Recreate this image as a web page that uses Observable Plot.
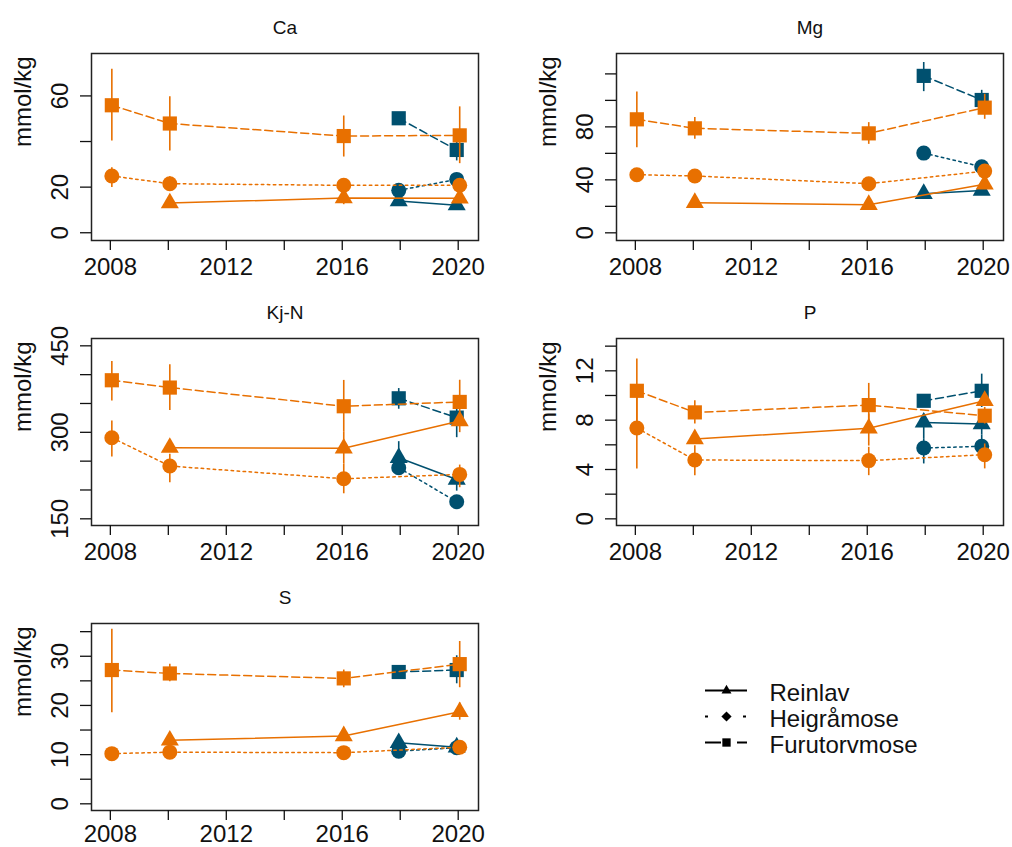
<!DOCTYPE html>
<html><head><meta charset="utf-8">
<script src="https://cdn.jsdelivr.net/npm/d3@7"></script>
<script src="https://cdn.jsdelivr.net/npm/@observablehq/plot@0.6"></script>
<style>
html,body{margin:0;padding:0;background:#fff;overflow:hidden;}
#wrap{position:relative;width:1012px;height:847px;font-family:"Liberation Sans",Arial,sans-serif;}
.panel{position:absolute;}
</style>
</head><body><div id="wrap"></div>
<script>
// ---------- data ----------
const years = [2008, 2010, 2012, 2014, 2016, 2018, 2020];
const yearLabels = [2008, 2012, 2016, 2020];
const species = ["Reinlav", "Heigråmose", "Furutorvmose"];
const groups = ["teal", "orange"];

// rows: [group, species, year, mean, lower, upper]
const Ca = [
  ["orange","Reinlav",2010,13.0,null,null],["orange","Reinlav",2016,15.2,12.3,17.5],["orange","Reinlav",2020,15.1,null,null],
  ["orange","Heigråmose",2008,24.9,19.8,28.5],["orange","Heigråmose",2010,21.5,18.5,24.5],["orange","Heigråmose",2016,20.8,18.0,23.5],["orange","Heigråmose",2020,20.8,18.5,23.0],
  ["orange","Furutorvmose",2008,55.9,40.2,71.7],["orange","Furutorvmose",2010,47.9,35.9,59.6],["orange","Furutorvmose",2016,42.4,33.2,51.2],["orange","Furutorvmose",2020,42.7,30.3,55.2],
  ["teal","Reinlav",2018,13.9,null,null],["teal","Reinlav",2020,12.1,null,null],
  ["teal","Heigråmose",2018,18.6,16.5,20.5],["teal","Heigråmose",2020,23.4,21.5,25.5],
  ["teal","Furutorvmose",2018,50.2,null,null],["teal","Furutorvmose",2020,36.3,31.5,40.0]
];
const Mg = [
  ["orange","Reinlav",2010,22.7,null,null],["orange","Reinlav",2016,21.2,null,null],["orange","Reinlav",2020,36.6,null,null],
  ["orange","Heigråmose",2008,43.9,null,null],["orange","Heigråmose",2010,42.9,null,null],["orange","Heigråmose",2016,37.1,null,null],["orange","Heigråmose",2020,46.6,null,null],
  ["orange","Furutorvmose",2008,85.7,64.3,106.4],["orange","Furutorvmose",2010,78.9,70.6,87.0],["orange","Furutorvmose",2016,75.1,66.8,83.2],["orange","Furutorvmose",2020,94.5,85.7,104.6],
  ["teal","Reinlav",2018,29.5,null,null],["teal","Reinlav",2020,32.0,null,null],
  ["teal","Heigråmose",2018,60.2,null,null],["teal","Heigråmose",2020,49.9,null,null],
  ["teal","Furutorvmose",2018,118.5,106.6,128.6],["teal","Furutorvmose",2020,100.3,95.0,107.6]
];
const KjN = [
  ["orange","Reinlav",2010,273.4,null,null],["orange","Reinlav",2016,272.2,245,300],["orange","Reinlav",2020,319.7,null,null],
  ["orange","Heigråmose",2008,290.7,257.1,319.7],["orange","Heigråmose",2010,241.5,212.5,262],["orange","Heigråmose",2016,219.5,193.4,245],["orange","Heigråmose",2020,227.0,203.9,243.2],
  ["orange","Furutorvmose",2008,390.3,354.4,422.8],["orange","Furutorvmose",2010,377.6,338,417],["orange","Furutorvmose",2016,345.2,300,390],["orange","Furutorvmose",2020,352.7,299.4,390.3],
  ["teal","Reinlav",2018,256.0,235,283.8],["teal","Reinlav",2020,218.3,198,235],
  ["teal","Heigråmose",2018,238.6,null,null],["teal","Heigråmose",2020,179.5,null,null],
  ["teal","Furutorvmose",2018,359.0,340,375.9],["teal","Furutorvmose",2020,325.5,290.7,345]
];
const P = [
  ["orange","Reinlav",2010,6.47,null,null],["orange","Reinlav",2016,7.34,5.9,8.5],["orange","Reinlav",2020,9.57,null,null],
  ["orange","Heigråmose",2008,7.36,4.05,9.84],["orange","Heigråmose",2010,4.77,3.5,5.93],["orange","Heigråmose",2016,4.72,3.5,5.8],["orange","Heigråmose",2020,5.2,4.05,6.07],
  ["orange","Furutorvmose",2008,10.38,7.8,12.95],["orange","Furutorvmose",2010,8.63,7.69,9.57],["orange","Furutorvmose",2016,9.22,7.55,10.98],["orange","Furutorvmose",2020,8.36,7.69,9.03],
  ["teal","Reinlav",2018,7.82,6.5,8.5],["teal","Reinlav",2020,7.69,6.8,8.6],
  ["teal","Heigråmose",2018,5.74,4.45,6.5],["teal","Heigråmose",2020,5.88,5.0,6.8],
  ["teal","Furutorvmose",2018,9.57,null,null],["teal","Furutorvmose",2020,10.38,9.03,11.73]
];
const S = [
  ["orange","Reinlav",2010,12.9,null,null],["orange","Reinlav",2016,13.8,null,null],["orange","Reinlav",2020,18.7,17.0,20.5],
  ["orange","Heigråmose",2008,10.2,null,null],["orange","Heigråmose",2010,10.5,null,null],["orange","Heigråmose",2016,10.4,null,null],["orange","Heigråmose",2020,11.5,null,null],
  ["orange","Furutorvmose",2008,27.2,18.5,35.5],["orange","Furutorvmose",2010,26.5,24.8,28.4],["orange","Furutorvmose",2016,25.5,23.6,27.2],["orange","Furutorvmose",2020,28.4,23.6,33.0],
  ["teal","Reinlav",2018,12.4,null,null],["teal","Reinlav",2020,11.5,null,null],
  ["teal","Heigråmose",2018,10.7,null,null],["teal","Heigråmose",2020,11.4,null,null],
  ["teal","Furutorvmose",2018,26.8,25.5,28.0],["teal","Furutorvmose",2020,27.2,24.4,30.1]
];

const caTicks = [0,20,40,60], caLabels = [0,20,60];
const mgTicks = [0,20,40,60,80,100,120], mgLabels = [0,40,80];
const kjnTicks = [150,200,250,300,350,400,450], kjnLabels = [150,300,450];
const pTicks = [0,2,4,6,8,10,12,14], pLabels = [0,4,8,12];
const sTicks = [0,5,10,15,20,25,30,35], sLabels = [0,10,20,30];

// ---------- styles ----------
const colors = {orange: "#e87000", teal: "#00506f"};
const symbols = {"Reinlav": "triangle", "Heigråmose": "circle", "Furutorvmose": "square"};
const radii = {"Reinlav": 6.7, "Heigråmose": 7.5, "Furutorvmose": 8};
const dashes = {"Reinlav": null, "Heigråmose": "2.5,3.5", "Furutorvmose": "8,4"};
const dodge = {orange: 1.5, teal: -1.5};
const font = "Liberation Sans, Arial, sans-serif";

const panels = [
  {title: "Ca", data: Ca, domain: [-3.4, 78.6], ticks: caTicks, labels: caLabels, pad: 7},
  {title: "Mg", data: Mg, domain: [-5.8, 135.4], ticks: mgTicks, labels: mgLabels, pad: 7},
  {title: "Kj-N", data: KjN, domain: [138.4, 462.7], ticks: kjnTicks, labels: kjnLabels, pad: 7},
  {title: "P", data: P, domain: [-0.54, 14.62], ticks: pTicks, labels: pLabels, pad: 7},
  {title: "S", data: S, domain: [-1.36, 36.66], ticks: sTicks, labels: sLabels, pad: 4}
];

const wrap = document.getElementById("wrap");

panels.forEach((p, i) => {
  const rows = p.data.map(([g, s, x, y, lo, hi]) => ({g, s, x, y, lo, hi}));
  const marks = [];
  for (const g of groups) {
    const dx = dodge[g];
    for (const s of species) {
      const d = rows.filter(r => r.g === g && r.s === s);
      marks.push(Plot.line(d, {x: "x", y: "y", dx, stroke: colors[g], strokeWidth: 1.5, strokeDasharray: dashes[s] || undefined}));
    }
    marks.push(Plot.ruleX(rows.filter(r => r.g === g && r.lo != null), {x: "x", y1: "lo", y2: "hi", dx, stroke: colors[g], strokeWidth: 1.6}));
    for (const s of species) {
      const d = rows.filter(r => r.g === g && r.s === s);
      marks.push(Plot.dot(d, {x: "x", y: "y", dx, symbol: symbols[s], r: radii[s], fill: colors[g], stroke: "none"}));
    }
  }
  const chart = Plot.plot({
    width: 487, height: 277,
    marginLeft: 91, marginRight: 9, marginTop: 53, marginBottom: 37,
    style: {fontFamily: font, background: "transparent", color: "#111", overflow: "visible"},
    x: {domain: [2007.35, 2020.7], label: null},
    y: {domain: p.domain, label: null},
    marks: [
      ...marks,
      Plot.frame({stroke: "#222", strokeWidth: 1.5}),
      Plot.axisX({ticks: years, label: null, tickFormat: d => yearLabels.includes(d) ? String(d) : "", tickSize: 10, tickPadding: p.pad, fontSize: 24, strokeWidth: 1.3}),
      Plot.axisY({ticks: p.ticks, label: null, tickFormat: d => p.labels.includes(d) ? String(d) : "", tickSize: 11, tickRotate: -90, tickPadding: 13, fontSize: 24, strokeWidth: 1.3}),
      Plot.text([p.title], {text: d => d, frameAnchor: "top", dy: -20, lineAnchor: "bottom", fontSize: 19}),
      Plot.text(["mmol/kg"], {text: d => d, frameAnchor: "left", dx: -68, rotate: -90, fontSize: 24})
    ]
  });
  const div = document.createElement("div");
  div.className = "panel";
  div.style.left = (i % 2) * 525 + "px";
  div.style.top = Math.floor(i / 2) * 285 + "px";
  div.appendChild(chart);
  wrap.appendChild(div);
});

// ---------- legend ----------
const legendSymbols = {"Reinlav": "triangle", "Heigråmose": "diamond2", "Furutorvmose": "square"};
const legendRadii = {"Reinlav": 3.7, "Heigråmose": 4.6, "Furutorvmose": 4.7};
const legendDashes = {"Reinlav": null, "Heigråmose": "3,16", "Furutorvmose": "16,16"};
const legend = Plot.plot({
  width: 320, height: 110, margin: 0,
  style: {fontFamily: font, background: "transparent", color: "#111", overflow: "visible"},
  x: {domain: [0, 1], range: [25, 67], axis: null},
  y: {type: "point", domain: species, range: [30, 82], padding: 0, axis: null},
  marks: [
    ...species.map(s => Plot.ruleY([s], {y: d => d, x1: () => 0, x2: () => 1, stroke: "black", strokeWidth: 2, strokeDasharray: legendDashes[s] || undefined})),
    ...species.map(s => Plot.dot([s], {y: d => d, x: () => 0.5, symbol: legendSymbols[s], r: legendRadii[s], fill: "black"})),
    Plot.text(species, {y: d => d, x: () => 1, text: d => d, dx: 22, dy: 3, textAnchor: "start", fontSize: 24})
  ]
});
const ldiv = document.createElement("div");
ldiv.className = "panel";
ldiv.style.left = "680px";
ldiv.style.top = "660px";
ldiv.appendChild(legend);
wrap.appendChild(ldiv);
</script>
</body></html>
